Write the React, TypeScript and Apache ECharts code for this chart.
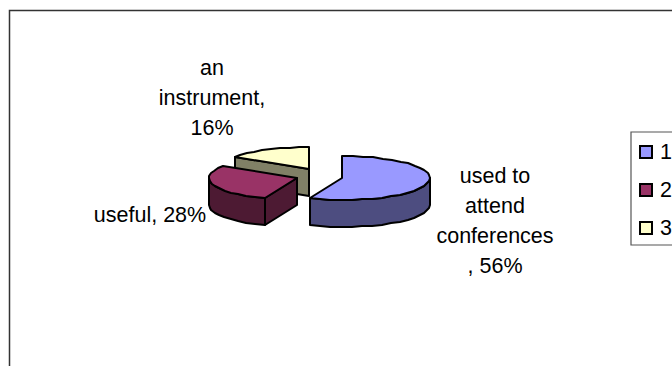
import React, { useEffect, useRef } from "react";
import * as echarts from "echarts";

const sliceNames = ["1", "2", "3"];
const sliceLabels = [
  ["used to", "attend", "conferences", ", 56%"],
  ["useful, 28%"],
  ["an", "instrument,", "16%"],
];
const sliceValues = [56, 28, 16];
const topColors = ["#9999FF", "#993366", "#FFFFCC"];
const sideColors = ["#4D4D80", "#4D1A33", "#808066"];

// Exploded centre of each wedge, and where its label block is anchored
const centres = [[342, 178], [297, 178], [309, 169]];
const labelAnchors = [[495, 175.5], [150, 215], [212, 68]];
const RX = 88;
const RY = 22;
const DEPTH = 27;
const LINE_GAP = 30;
const FONT = "Liberation Sans, Arial, sans-serif";
const FONT_SIZE = 21.5;

const total = sliceValues.reduce((a, b) => a + b, 0);
const rad = (deg: number) => (deg * Math.PI) / 180;

// Angles run clockwise from twelve o'clock, as in a spreadsheet pie.
// Rim points snap to whole pixels, which gives the outline its coarse metafile look.
const rim = (c: number[], a: number, drop = 0) => [
  Math.round(c[0] + RX * Math.sin(rad(a))),
  Math.round(c[1] - RY * Math.cos(rad(a)) + drop),
];
const arc = (c: number[], from: number, to: number, drop = 0) => {
  const pts: number[][] = [];
  const n = Math.max(2, Math.ceil(Math.abs(to - from) / 7));
  for (let i = 0; i <= n; i++) pts.push(rim(c, from + ((to - from) * i) / n, drop));
  return pts;
};

const edge = { stroke: "#000", lineWidth: 2, lineJoin: "round" as const };

function renderSlice(index: number) {
  const start = (sliceValues.slice(0, index).reduce((a, b) => a + b, 0) / total) * 360;
  const end = start + (sliceValues[index] / total) * 360;
  const c = centres[index];
  const children: any[] = [];
  const poly = (points: number[][], fill: string) =>
    children.push({ type: "polygon", shape: { points }, style: { ...edge, fill } });
  const wall = (a: number) => {
    const p = rim(c, a);
    poly([c, p, [p[0], p[1] + DEPTH], [c[0], c[1] + DEPTH]], sideColors[index]);
  };

  // Only the cut faces and the part of the rim that look toward the viewer are drawn
  if (Math.sin(rad(start)) < -1e-6) wall(start);
  if (Math.sin(rad(end)) > 1e-6) wall(end);

  const visFrom = Math.max(start, 90);
  const visTo = Math.min(end, 270);
  if (visTo > visFrom) {
    const upper = arc(c, visFrom, visTo);
    const lower = arc(c, visFrom, visTo, DEPTH).reverse();
    poly([...upper, ...lower], sideColors[index]);
  }
  poly([c, ...arc(c, start, end)], topColors[index]);

  sliceLabels[index].forEach((line, i) => {
    children.push({
      type: "text",
      x: labelAnchors[index][0],
      y: labelAnchors[index][1] + i * LINE_GAP,
      style: {
        text: line,
        fill: "#000",
        font: `${FONT_SIZE}px ${FONT}`,
        align: "center",
        verticalAlign: "middle",
      },
    });
  });
  return { type: "group", children };
}

export default function App() {
  const ref = useRef<HTMLDivElement>(null);
  useEffect(() => {
    document.body.style.margin = "0";
    const chart = echarts.init(ref.current!, undefined, { renderer: "svg" });
    chart.setOption({
      animation: false,
      backgroundColor: "#fff",
      graphic: [
        {
          type: "rect",
          z: -1,
          shape: { x: 9.5, y: 10.5, width: 720, height: 400 },
          style: { fill: "#fff", stroke: "#333", lineWidth: 1.5 },
        },
      ],
      legend: {
        left: 631,
        top: 132,
        orient: "vertical",
        data: sliceNames,
        icon: "rect",
        itemWidth: 12,
        itemHeight: 12,
        itemGap: 16,
        padding: [9, 40, 6, 8],
        borderColor: "#555",
        borderWidth: 1.2,
        backgroundColor: "#fff",
        selectedMode: false,
        itemStyle: { borderColor: "#000", borderWidth: 2 },
        textStyle: {
          fontFamily: FONT,
          fontSize: FONT_SIZE,
          lineHeight: 22,
          color: "#000",
          padding: [0, 0, 0, 3],
        },
      },
      series: sliceNames.map((name, index) => ({
        type: "custom",
        name,
        coordinateSystem: "none",
        silent: true,
        z: 2 + (2 - index),
        itemStyle: { color: topColors[index] },
        data: [sliceValues[index]],
        renderItem: () => renderSlice(index),
      })),
    });
    return () => chart.dispose();
  }, []);
  return <div ref={ref} style={{ width: 672, height: 366, overflow: "hidden" }} />;
}
